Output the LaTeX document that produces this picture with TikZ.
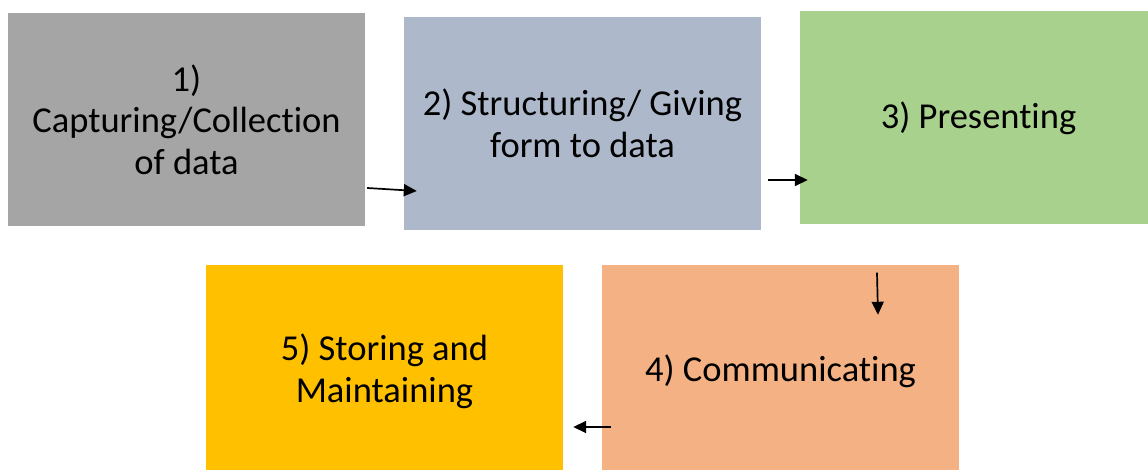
\documentclass[tikz,border=0pt]{standalone}
\usepackage{fontspec}
\setmainfont{Carlito}[Ligatures=NoCommon]
\usetikzlibrary{arrows.meta}
\tikzset{>={Triangle[length=13pt,width=12pt]}}
\definecolor{mygray}{HTML}{A5A5A5}
\definecolor{mybluegray}{HTML}{ADB9CA}
\definecolor{mygreen}{HTML}{A9D18E}
\definecolor{myorange}{HTML}{F4B183}
\definecolor{myyellow}{HTML}{FFC000}
\tikzset{
  stagebox/.style={minimum width=357pt,minimum height=213pt,inner sep=0pt,
    align=center,font=\fontsize{36.5}{41.5}\selectfont},
  flowarrow/.style={->,line width=1.7pt}
}

\begin{document}
\begin{tikzpicture}[x=1pt,y=-1pt]
  
  \clip (0,0) rectangle (1148,470);
  
  % boxes
  \node[stagebox,fill=mygray] (cap) % 1
    at (186.5,119.5) {1)\\Capturing/Collection\\of data};
  \node[stagebox,fill=mybluegray] (struct) % 2
    at (582.5,123.5) {2) Structuring/ Giving\\form to data};
  \node[stagebox,fill=mygreen] (pres) % 3
    at (978.5,118) {3) Presenting};
  \node[stagebox,fill=myorange] (comm) % 4
    at (780.5,371.5) {4) Communicating};
  \node[stagebox,fill=myyellow] (store) % 5
    at (384.5,371.5) {5) Storing and\\Maintaining};
  
  % arrows
  \draw[flowarrow] % 1 -> 2
    ([xshift=2pt,yshift=-68.5pt]cap.east) -- ([xshift=13pt,yshift=-67.5pt]struct.west);
  \draw[flowarrow] % 2 -> 3
    ([xshift=7pt,yshift=-56.5pt]struct.east) -- ([xshift=8pt,yshift=-62pt]pres.west);
  \draw[flowarrow] % 3 -> 4
    ([xshift=-101.5pt,yshift=-48pt]pres.south) -- ([xshift=97.5pt,yshift=-50pt]comm.north);
  \draw[flowarrow] % 4 -> 5
    ([xshift=9pt,yshift=-55.5pt]comm.west) -- ([xshift=10pt,yshift=-55.5pt]store.east);
  
\end{tikzpicture}
\end{document}
